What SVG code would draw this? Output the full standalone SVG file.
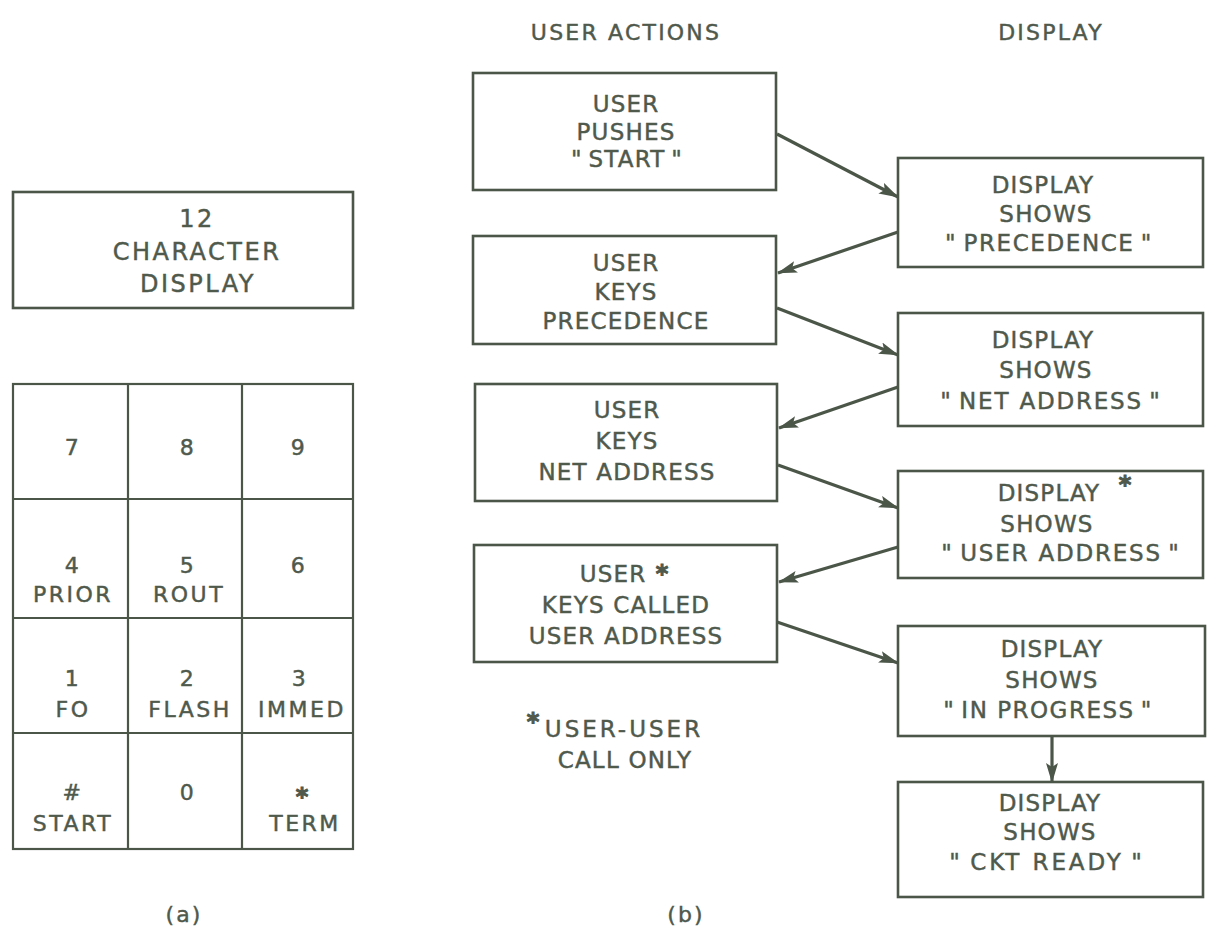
<svg xmlns="http://www.w3.org/2000/svg" width="1211" height="947" viewBox="0 0 1211 947">
<style>
.bg{fill:#ffffff}
.box{fill:none;stroke:#4b5648;stroke-width:2.6}
.key{fill:none;stroke:#4b5648;stroke-width:2.2}
text{font-family:"DejaVu Sans",sans-serif;fill:#4f594c;stroke:#4f594c;stroke-width:0.45;text-anchor:middle}
.t{font-size:23px;letter-spacing:1.2px}
.k{font-size:22px;letter-spacing:2.5px}
.d{font-size:24px;letter-spacing:2.5px}
.h{font-size:22px;letter-spacing:2.2px}
.st{font-size:24px;font-weight:bold;stroke-width:1}
.arr{fill:none;stroke:#4b5648;stroke-width:3.2;marker-end:url(#ah)}
</style>
<defs>
<marker id="ah" markerUnits="userSpaceOnUse" markerWidth="22" markerHeight="14" refX="19" refY="6" orient="auto">
<path d="M0,0 L20,6 L0,12 L4,6 z" fill="#4b5648"/>
</marker>
</defs>
<rect class="bg" x="0" y="0" width="1211" height="947"/>

<text class="h" x="626" y="40">USER ACTIONS</text>
<text class="h" x="1051" y="40">DISPLAY</text>

<g id="char-display">
<rect class="box" x="13" y="192" width="340" height="116"/>
<text class="d" x="197" y="227">12</text>
<text class="d" x="197" y="260">CHARACTER</text>
<text class="d" x="198" y="292">DISPLAY</text>
</g>

<g id="keypad">
<rect class="key" x="13" y="384" width="340" height="465"/>
<line class="key" x1="128" y1="384" x2="128" y2="849"/>
<line class="key" x1="242" y1="384" x2="242" y2="849"/>
<line class="key" x1="13" y1="499" x2="353" y2="499"/>
<line class="key" x1="13" y1="618" x2="353" y2="618"/>
<line class="key" x1="13" y1="733" x2="353" y2="733"/>
<text class="k" x="73" y="455">7</text>
<text class="k" x="188" y="455">8</text>
<text class="k" x="299" y="455">9</text>
<text class="k" x="73" y="573">4</text>
<text class="k" x="73" y="602">PRIOR</text>
<text class="k" x="188" y="573">5</text>
<text class="k" x="189" y="602">ROUT</text>
<text class="k" x="299" y="573">6</text>
<text class="k" x="73" y="686">1</text>
<text class="k" x="73" y="717">FO</text>
<text class="k" x="188" y="686">2</text>
<text class="k" x="190" y="717">FLASH</text>
<text class="k" x="300" y="686">3</text>
<text class="k" x="302" y="717">IMMED</text>
<text class="k" x="73" y="800">#</text>
<text class="k" x="73" y="831">START</text>
<text class="k" x="188" y="800">0</text>
<text class="st" x="302" y="805">*</text>
<text class="k" x="305" y="831">TERM</text>
</g>

<text class="h" x="184" y="922">(a)</text>
<text class="h" x="686" y="922">(b)</text>

<g id="u1">
<rect class="box" x="473" y="73" width="303" height="117"/>
<text class="t" x="626" y="112">USER</text>
<text class="t" x="626" y="140">PUSHES</text>
<text class="t" x="627" y="167">"&#8201;START&#8201;"</text>
</g>
<g id="u2">
<rect class="box" x="473" y="236" width="303" height="108"/>
<text class="t" x="626" y="271">USER</text>
<text class="t" x="626" y="300">KEYS</text>
<text class="t" x="626" y="329">PRECEDENCE</text>
</g>
<g id="u3">
<rect class="box" x="475" y="384" width="302" height="117"/>
<text class="t" x="627" y="418">USER</text>
<text class="t" x="627" y="449">KEYS</text>
<text class="t" x="627" y="480">NET ADDRESS</text>
</g>
<g id="u4">
<rect class="box" x="474" y="545" width="303" height="117"/>
<text class="t" x="613" y="582">USER</text>
<text class="st" x="662" y="582">*</text>
<text class="t" x="626" y="613">KEYS CALLED</text>
<text class="t" x="626" y="644">USER ADDRESS</text>
</g>

<g id="note">
<text class="st" x="533" y="730">*</text>
<text class="t" x="624" y="737" style="letter-spacing:3px">USER-USER</text>
<text class="t" x="625" y="768">CALL ONLY</text>
</g>

<g id="d1">
<rect class="box" x="898" y="158" width="305" height="109"/>
<text class="t" x="1043" y="193">DISPLAY</text>
<text class="t" x="1046" y="222">SHOWS</text>
<text class="t" x="1049" y="251" style="letter-spacing:1.6px">"&#8201;PRECEDENCE&#8201;"</text>
</g>
<g id="d2">
<rect class="box" x="898" y="313" width="305" height="113"/>
<text class="t" x="1043" y="348">DISPLAY</text>
<text class="t" x="1046" y="378">SHOWS</text>
<text class="t" x="1051" y="409" style="letter-spacing:1.8px">"&#8201;NET ADDRESS&#8201;"</text>
</g>
<g id="d3">
<rect class="box" x="898" y="471" width="305" height="107"/>
<text class="t" x="1049" y="501">DISPLAY</text>
<text class="st" x="1125" y="493">*</text>
<text class="t" x="1047" y="532">SHOWS</text>
<text class="t" x="1061" y="561" style="letter-spacing:1.8px">"&#8201;USER ADDRESS&#8201;"</text>
</g>
<g id="d4">
<rect class="box" x="898" y="626" width="307" height="110"/>
<text class="t" x="1052" y="657">DISPLAY</text>
<text class="t" x="1052" y="688">SHOWS</text>
<text class="t" x="1048" y="718" style="letter-spacing:1.5px">"&#8201;IN PROGRESS&#8201;"</text>
</g>
<g id="d5">
<rect class="box" x="898" y="782" width="305" height="115"/>
<text class="t" x="1050" y="811">DISPLAY</text>
<text class="t" x="1050" y="840">SHOWS</text>
<text class="t" x="1047" y="870" style="letter-spacing:2.9px">"&#8201;CKT READY&#8201;"</text>
</g>

<g id="connectors">
<line class="arr" x1="777" y1="134" x2="898" y2="197"/>
<line class="arr" x1="898" y1="232" x2="778" y2="273"/>
<line class="arr" x1="777" y1="308" x2="898" y2="355"/>
<line class="arr" x1="898" y1="387" x2="779" y2="428"/>
<line class="arr" x1="778" y1="465" x2="898" y2="508"/>
<line class="arr" x1="898" y1="547" x2="779" y2="582"/>
<line class="arr" x1="777" y1="622" x2="898" y2="663"/>
<line class="arr" x1="1052" y1="736" x2="1052" y2="782"/>
</g>
</svg>
